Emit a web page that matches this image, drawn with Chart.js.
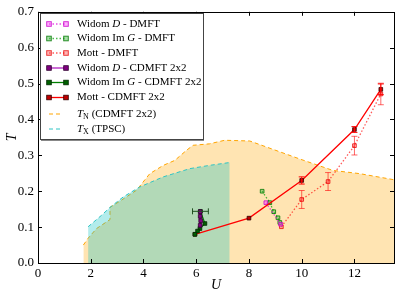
<!DOCTYPE html>
<html>
<head>
<meta charset="utf-8">
<script src="https://cdn.jsdelivr.net/npm/chart.js@4/dist/chart.umd.min.js"></script>
<style>
  html, body { margin: 0; padding: 0; background: #fff; }
</style>
</head>
<body>
<canvas id="plot" width="399" height="297"></canvas>
<script>
// axis ticks
const xTicks = [0, 2, 4, 6, 8, 10, 12];
const yTicks = [0, 0.1, 0.2, 0.3, 0.4, 0.5, 0.6, 0.7];

// T_N (CDMFT 2x2) boundary
const uTN = [1.72, 1.72, 1.9, 2.22, 2.73, 2.73, 3.1, 3.74, 4.24, 4.75, 5.19, 5.63, 5.88, 6.5, 7.08, 8.03, 9.92, 11.18, 12.2, 13.5];
const tTN = [0, 0.05, 0.069, 0.096, 0.121, 0.155, 0.172, 0.203, 0.249, 0.272, 0.286, 0.314, 0.328, 0.332, 0.342, 0.34, 0.29, 0.258, 0.249, 0.232];

// T_X (TPSC) boundary
const uTX = [1.9, 1.9, 2.41, 2.73, 3.23, 3.86, 4.75, 5.76, 6.5, 7.27, 7.27];
const tTX = [0, 0.101, 0.133, 0.155, 0.184, 0.212, 0.24, 0.263, 0.272, 0.28, 0];

// DMFT
const uWidomD_DMFT = [8.64, 9.2];
const tWidomD_DMFT = [0.168, 0.108];
const uWidomG_DMFT = [8.5, 8.79, 8.94, 9.1, 9.17];
const tWidomG_DMFT = [0.2, 0.168, 0.143, 0.126, 0.113];
const uMott_DMFT = [9.23, 10, 11, 12, 13];
const tMott_DMFT = [0.101, 0.177, 0.227, 0.327, 0.471];
const eMott_DMFT = [0, 0.025, 0.025, 0.026, 0.03];

// CDMFT 2x2
const uWidomD_CDMFT = [6.15, 6.15, 6.17, 6.15];
const tWidomD_CDMFT = [0.143, 0.13, 0.118, 0.105];
const uWidomG_CDMFT = [6.16, 6.33, 6.14, 6.05, 5.95];
const tWidomG_CDMFT = [0.144, 0.11, 0.096, 0.089, 0.08];
const xeWidomG_CDMFT = [0.3, 0, 0, 0, 0];
const uMott_CDMFT = [5.95, 8, 10, 12, 13];
const tMott_CDMFT = [0.08, 0.125, 0.23, 0.372, 0.484];
const eMott_CDMFT = [0, 0, 0.01, 0.008, 0.015];

const pts = (u, t) => u.map((v, i) => ({x: v, y: t[i]}));

const ORANGE = '#ffa500';
const CYAN = '#2ec4c4';
const SERIF = '"Liberation Serif", "DejaVu Serif", serif';

function dotted(label, u, t, line, face, edge) {
  return {
    label: label, data: pts(u, t), showLine: true,
    borderColor: line, borderWidth: 1.3, borderDash: [1.5, 2],
    pointStyle: 'rect', pointRadius: 2.6, pointBorderWidth: 1,
    pointBackgroundColor: face, pointBorderColor: edge, order: 3
  };
}
function solid(label, u, t, line, face, edge) {
  return {
    label: label, data: pts(u, t), showLine: true,
    borderColor: line, borderWidth: 1.3,
    pointStyle: 'rect', pointRadius: 2.6, pointBorderWidth: 0.8,
    pointBackgroundColor: face, pointBorderColor: edge, order: 2
  };
}

const dsWidomD_DMFT = dotted('Widom D - DMFT', uWidomD_DMFT, tWidomD_DMFT, 'rgba(220,0,220,0.7)', 'rgba(255,80,255,0.45)', 'rgba(200,0,200,0.8)');
const dsWidomG_DMFT = dotted('Widom Im G - DMFT', uWidomG_DMFT, tWidomG_DMFT, 'rgba(0,160,0,0.7)', 'rgba(60,180,60,0.45)', 'rgba(0,120,0,0.8)');
const dsMott_DMFT = dotted('Mott - DMFT', uMott_DMFT, tMott_DMFT, 'rgba(255,0,0,0.65)', 'rgba(255,90,90,0.45)', 'rgba(230,0,0,0.75)');
dsMott_DMFT.errY = eMott_DMFT;
dsMott_DMFT.errColor = 'rgba(255,0,0,0.6)';

const dsWidomD_CDMFT = solid('Widom D - CDMFT 2x2', uWidomD_CDMFT, tWidomD_CDMFT, '#b020c0', '#800080', '#300030');
const dsWidomG_CDMFT = solid('Widom Im G - CDMFT 2x2', uWidomG_CDMFT, tWidomG_CDMFT, '#008000', '#006000', '#002800');
dsWidomG_CDMFT.errX = xeWidomG_CDMFT;
dsWidomG_CDMFT.errColor = '#205020';
const dsMott_CDMFT = solid('Mott - CDMFT 2x2', uMott_CDMFT, tMott_CDMFT, '#ff0000', '#c00000', '#300000');
dsMott_CDMFT.errY = eMott_CDMFT;
dsMott_CDMFT.errColor = '#ff0000';

const dsTN = {
  label: 'TN', data: pts(uTN, tTN), showLine: true, pointRadius: 0,
  borderColor: ORANGE, borderWidth: 1, borderDash: [4, 3],
  backgroundColor: 'rgba(255,165,0,0.3)', fill: 'origin', order: 10,
  segment: { borderColor: c => c.p0DataIndex === 0 ? 'rgba(0,0,0,0)' : ORANGE }
};
const dsTX = {
  label: 'TX', data: pts(uTX, tTX), showLine: true, pointRadius: 0,
  borderColor: CYAN, borderWidth: 1, borderDash: [4, 3],
  backgroundColor: 'rgba(0,191,191,0.3)', fill: 'origin', order: 9,
  segment: { borderColor: c => (c.p0DataIndex === 0 || c.p1DataIndex === uTX.length - 1) ? 'rgba(0,0,0,0)' : CYAN }
};

// error bars, inward ticks, frame, axis titles
const extras = {
  id: 'extras',
  afterDatasetsDraw(chart) {
    const c = chart.ctx, sx = chart.scales.x, sy = chart.scales.y;
    c.save();
    c.lineWidth = 1;
    chart.data.datasets.forEach(ds => {
      if (!ds.errY && !ds.errX) return;
      c.strokeStyle = ds.errColor;
      ds.data.forEach((p, i) => {
        const px = sx.getPixelForValue(p.x), py = sy.getPixelForValue(p.y);
        if (ds.errY && ds.errY[i]) {
          const a = sy.getPixelForValue(p.y - ds.errY[i]), b = sy.getPixelForValue(p.y + ds.errY[i]);
          c.beginPath();
          c.moveTo(px, a); c.lineTo(px, b);
          c.moveTo(px - 3, a); c.lineTo(px + 3, a);
          c.moveTo(px - 3, b); c.lineTo(px + 3, b);
          c.stroke();
        }
        if (ds.errX && ds.errX[i]) {
          const a = sx.getPixelForValue(p.x - ds.errX[i]), b = sx.getPixelForValue(p.x + ds.errX[i]);
          c.beginPath();
          c.moveTo(a, py); c.lineTo(b, py);
          c.moveTo(a, py - 3); c.lineTo(a, py + 3);
          c.moveTo(b, py - 3); c.lineTo(b, py + 3);
          c.stroke();
        }
      });
    });
    c.restore();
  },
  afterDraw(chart) {
    const c = chart.ctx, a = chart.chartArea, sx = chart.scales.x, sy = chart.scales.y;
    c.save();
    c.strokeStyle = '#000';
    c.lineWidth = 1;
    c.beginPath();
    xTicks.forEach(v => {
      const px = Math.round(sx.getPixelForValue(v)) + 0.5;
      c.moveTo(px, a.bottom); c.lineTo(px, a.bottom - 4);
      c.moveTo(px, a.top); c.lineTo(px, a.top + 4);
    });
    yTicks.forEach(v => {
      const py = Math.round(sy.getPixelForValue(v)) + 0.5;
      c.moveTo(a.left, py); c.lineTo(a.left + 4, py);
      c.moveTo(a.right, py); c.lineTo(a.right - 4, py);
    });
    c.stroke();
    c.strokeRect(Math.round(a.left) + 0.5, Math.round(a.top) + 0.5, Math.round(a.right - a.left), Math.round(a.bottom - a.top));

    // axis titles
    c.fillStyle = '#000';
    c.font = 'italic 14px ' + SERIF;
    c.textAlign = 'center';
    c.textBaseline = 'middle';
    c.fillText('U', (a.left + a.right) / 2, 285);
    c.translate(12, (a.top + a.bottom) / 2);
    c.rotate(-Math.PI / 2);
    c.fillText('T', 0, 0);
    c.restore();

    drawLegend(c);
  }
};

const legendItems = [
  {parts: [['Widom '], ['D', 'i'], [' - DMFT']], ds: dsWidomD_DMFT},
  {parts: [['Widom Im '], ['G', 'i'], [' - DMFT']], ds: dsWidomG_DMFT},
  {parts: [['Mott - DMFT']], ds: dsMott_DMFT},
  {parts: [['Widom '], ['D', 'i'], [' - CDMFT 2x2']], ds: dsWidomD_CDMFT},
  {parts: [['Widom Im '], ['G', 'i'], [' - CDMFT 2x2']], ds: dsWidomG_CDMFT},
  {parts: [['Mott - CDMFT 2x2']], ds: dsMott_CDMFT},
  {parts: [['T', 'i'], ['N', 's'], [' (CDMFT 2x2)']], ds: dsTN},
  {parts: [['T', 'i'], ['X', 's'], [' (TPSC)']], ds: dsTX}
];
const legendY = [24, 38.5, 53, 68, 82.5, 97.5, 114, 129];

function drawLegend(c) {
  c.save();
  c.fillStyle = '#fff';
  c.fillRect(40, 13, 164, 127);
  c.strokeStyle = '#444';
  c.lineWidth = 1;
  c.strokeRect(40.5, 13.5, 163, 126);
  c.strokeStyle = '#888';
  c.beginPath(); c.moveTo(41, 140.5); c.lineTo(204, 140.5); c.stroke();

  legendItems.forEach((it, k) => {
    const y = legendY[k], ds = it.ds;
    c.save();
    c.strokeStyle = ds.borderColor;
    c.lineWidth = ds.borderWidth;
    c.setLineDash(ds.borderDash || []);
    c.beginPath();
    if (ds.pointRadius) { c.moveTo(49, y); c.lineTo(66, y); }
    else { c.moveTo(49, y); c.lineTo(63, y); }
    c.stroke();
    c.setLineDash([]);
    if (ds.pointRadius) {
      [49, 66].forEach(x => {
        c.fillStyle = ds.pointBackgroundColor;
        c.strokeStyle = ds.pointBorderColor;
        c.lineWidth = ds.pointBorderWidth;
        c.fillRect(x - 2.3, y - 2.3, 4.6, 4.6);
        c.strokeRect(x - 2.3, y - 2.3, 4.6, 4.6);
      });
    }
    c.restore();

    let x = 77;
    c.fillStyle = '#000';
    c.textBaseline = 'middle';
    c.textAlign = 'left';
    it.parts.forEach(p => {
      const style = p[1];
      if (style === 's') {
        c.font = '8px ' + SERIF;
        c.fillText(p[0], x, y + 3);
      } else {
        c.font = (style === 'i' ? 'italic ' : '') + '11px ' + SERIF;
        c.fillText(p[0], x, y);
      }
      x += c.measureText(p[0]).width;
    });
  });
  c.restore();
}

const config = {
  type: 'scatter',
  data: {
    datasets: [dsWidomD_DMFT, dsWidomG_DMFT, dsMott_DMFT, dsWidomD_CDMFT, dsWidomG_CDMFT, dsMott_CDMFT, dsTX, dsTN]
  },
  options: {
    responsive: false,
    animation: false,
    devicePixelRatio: 1,
    layout: { padding: { left: 0, right: 5, top: 11, bottom: 0 } },
    scales: {
      x: {
        type: 'linear', min: 0, max: 13.5,
        grid: { display: false, drawTicks: false }, border: { display: false },
        afterBuildTicks: s => { s.ticks = xTicks.map(v => ({value: v})); },
        afterFit: s => { s.height = 34; },
        ticks: { color: '#000', padding: 3, autoSkip: false, font: { family: SERIF, size: 13 },
                 callback: v => String(v) }
      },
      y: {
        type: 'linear', min: 0, max: 0.7,
        grid: { display: false, drawTicks: false }, border: { display: false },
        afterBuildTicks: s => { s.ticks = yTicks.map(v => ({value: v})); },
        afterFit: s => { s.width = 38; },
        ticks: { color: '#000', padding: 4, autoSkip: false, font: { family: SERIF, size: 13 },
                 callback: v => Number(v).toFixed(1) }
      }
    },
    plugins: {
      legend: { display: false },
      tooltip: { enabled: false }
    }
  },
  plugins: [extras]
};

const chart = new Chart(document.getElementById('plot').getContext('2d'), config);
</script>
</body>
</html>
